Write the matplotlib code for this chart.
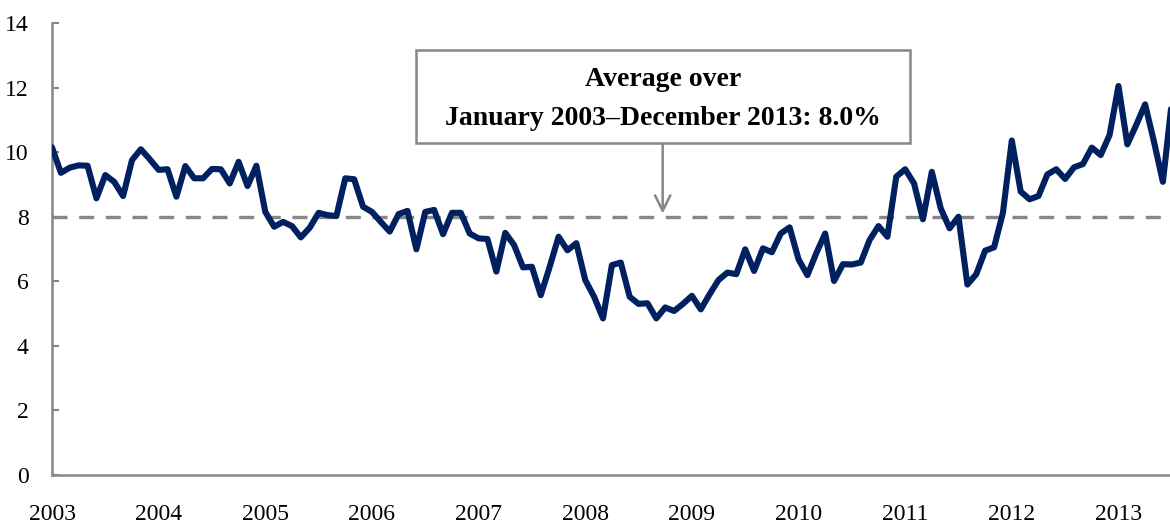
import numpy as np
import matplotlib
matplotlib.use("Agg")
import matplotlib.pyplot as plt
from matplotlib.patches import Rectangle

# Monthly values, Jan 2003 .. Jul 2013
v2003 = [10.15, 9.36, 9.52, 9.59, 9.58, 8.57, 9.29, 9.08, 8.64, 9.75, 10.09, 9.78]
v2004 = [9.45, 9.47, 8.62, 9.57, 9.19, 9.19, 9.48, 9.47, 9.03, 9.70, 8.95, 9.58]
v2005 = [8.15, 7.69, 7.84, 7.71, 7.36, 7.66, 8.12, 8.05, 8.02, 9.19, 9.16, 8.31]
v2006 = [8.15, 7.84, 7.54, 8.08, 8.18, 6.99, 8.15, 8.21, 7.46, 8.12, 8.12, 7.48]
v2007 = [7.33, 7.31, 6.30, 7.50, 7.12, 6.43, 6.45, 5.57, 6.45, 7.38, 6.96, 7.18]
v2008 = [6.04, 5.52, 4.85, 6.50, 6.58, 5.52, 5.30, 5.32, 4.85, 5.19, 5.08, 5.30]
v2009 = [5.55, 5.13, 5.60, 6.04, 6.27, 6.22, 6.99, 6.32, 7.02, 6.90, 7.48, 7.67]
v2010 = [6.68, 6.19, 6.87, 7.48, 6.01, 6.53, 6.52, 6.58, 7.28, 7.71, 7.38, 9.24]
v2011 = [9.47, 9.03, 7.92, 9.39, 8.26, 7.64, 8.00, 5.90, 6.22, 6.95, 7.05, 8.12]
v2012 = [10.36, 8.78, 8.54, 8.64, 9.31, 9.47, 9.17, 9.53, 9.63, 10.14, 9.91, 10.53]
v2013 = [12.05, 10.24, 10.84, 11.48, 10.32, 9.08, 11.55]

values = v2003 + v2004 + v2005 + v2006 + v2007 + v2008 + v2009 + v2010 + v2011 + v2012 + v2013
start_year = 2003
average = 8.0
year_ticks = list(range(2003, 2014))
y_ticks = [0, 2, 4, 6, 8, 10, 12, 14]
annotation = "Average over\nJanuary 2003\u2013December 2013: 8.0%"

x = start_year + np.arange(len(values)) / 12.0

plt.rcParams['font.family'] = ['Liberation Serif', 'DejaVu Serif']

fig = plt.figure(figsize=(11.7, 5.24), dpi=100)
ax = fig.add_axes([52/1170, 1 - 475/524, 1 - 52/1170, (475 - 23)/524])

grey = '#878787'
navy = '#002060'

ax.axhline(average, color=grey, lw=2.4, dashes=(4.5, 3.5), zorder=1)
ax.plot(x, values, color=navy, lw=4.4, solid_joinstyle='round',
        solid_capstyle='round', zorder=3)

ax.set_xlim(2003, 2003 + 125.8 / 12)
ax.set_ylim(0, 14)
ax.set_yticks(y_ticks)
ax.set_xticks(year_ticks)
ax.set_xticklabels([str(y) for y in year_ticks])

for s in ['top', 'right']:
    ax.spines[s].set_visible(False)
for s in ['left', 'bottom']:
    ax.spines[s].set_color(grey)
    ax.spines[s].set_linewidth(1.8)

ax.tick_params(axis='y', direction='in', length=5, width=1.5, color=grey,
               labelsize=17, pad=17, labelcolor='black')
ax.tick_params(axis='x', length=0, labelsize=17, pad=21, labelcolor='black')

# annotation box (pixel layout converted to data units)
px_x = lambda p: 2003 + (p - 52) / 106.7
px_y = lambda p: 14 - (p - 23) / 32.29
box_l, box_r, box_t, box_b = 416, 910, 50, 143
ax.add_patch(Rectangle((px_x(box_l), px_y(box_b)), px_x(box_r) - px_x(box_l),
                       px_y(box_t) - px_y(box_b), fc='white', ec=grey, lw=1.8,
                       zorder=5, clip_on=False))
ax.text(px_x((box_l + box_r) / 2), px_y(99), annotation,
        ha='center', va='center', fontsize=20, fontweight='bold',
        linespacing=1.7, zorder=6)
ax.annotate('', xy=(px_x(663), average + 0.1), xytext=(px_x(663), px_y(box_b)),
            arrowprops=dict(arrowstyle='->,head_length=1.1,head_width=0.55',
                            color=grey, lw=1.8, shrinkA=0, shrinkB=0),
            zorder=4)

fig.savefig('out.png', dpi=100)
